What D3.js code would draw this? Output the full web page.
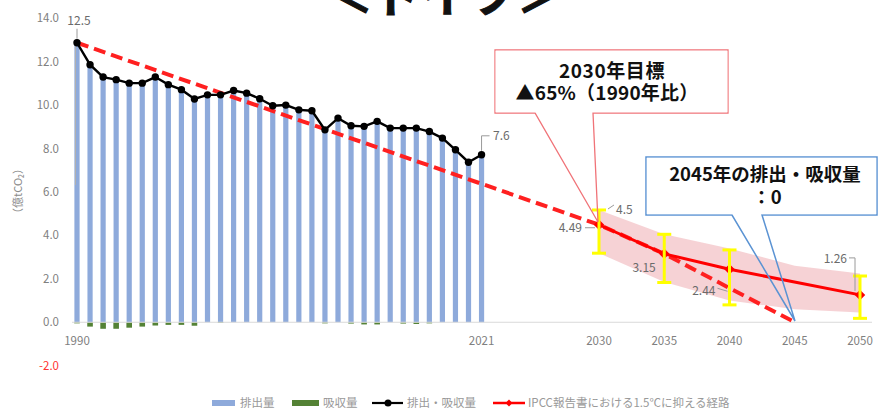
<!DOCTYPE html>
<html>
<head>
<meta charset="utf-8">
<script src="https://cdn.jsdelivr.net/npm/d3@7"></script>
<style>
  body { margin: 0; background: #fff; }
  svg { display: block; }
  text { font-family: "Noto Sans CJK JP", "Noto Sans", sans-serif; }
</style>
</head>
<body>
<svg id="chart"></svg>
<script>
// history 1990-2021
const histYears = d3.range(1990, 2022);
const emissions = [12.87, 11.86, 11.29, 11.17, 11.01, 11.01, 11.29, 10.94, 10.71, 10.28,
                   10.47, 10.47, 10.67, 10.55, 10.29, 9.97, 10.0, 9.78, 9.74, 8.86,
                   9.4, 9.05, 9.02, 9.25, 8.94, 8.94, 8.94, 8.78, 8.48, 7.94, 7.37, 7.71];
const absorption = [-0.05, -0.2, -0.3, -0.3, -0.25, -0.2, -0.15, -0.12, -0.12, -0.16,
                    0, -0.03, 0, 0, 0, 0, 0, 0, 0, -0.05,
                    0, -0.06, -0.1, -0.1, 0, -0.06, -0.08, -0.05, 0, 0, 0, 0];
const netValues = [12.87, 11.86, 11.29, 11.17, 11.01, 11.01, 11.29, 10.94, 10.71, 10.28,
                   10.47, 10.47, 10.67, 10.55, 10.29, 9.97, 10.0, 9.78, 9.74, 8.86,
                   9.4, 9.05, 9.02, 9.25, 8.94, 8.94, 8.94, 8.78, 8.48, 7.94, 7.37, 7.71];

// IPCC 1.5C path
const pathYears = [2030, 2035, 2040, 2050];
const pathValues = [4.49, 3.15, 2.44, 1.26];
const bandYears = [2030, 2035, 2040, 2045, 2050];
const bandLow = [3.18, 1.85, 1.0, 0.6, 0.45];
const bandHigh = [5.17, 4.05, 3.4, 2.6, 2.25];
const errYears = [2030, 2035, 2040, 2050];
const errLow = [3.18, 1.83, 0.8, 0.18];
const errHigh = [5.17, 4.05, 3.33, 2.13];

// straight target line
const targetYears = [1990, 2030, 2035, 2045];
const targetValues = [12.87, 4.49, 3.15, 0];

const yTicks = [-2, 0, 2, 4, 6, 8, 10, 12, 14];
const xTickYears = [1990, 2021, 2030, 2035, 2040, 2045, 2050];

const labelYears = [1990, 2021, 2030, 2030, 2035, 2040, 2050];
const labelValues = [12.87, 7.71, 5.17, 4.49, 3.15, 2.44, 1.26];
const labelTexts = ["12.5", "7.6", "4.5", "4.49", "3.15", "2.44", "1.26"];

const legendNames = ["排出量", "吸収量", "排出・吸収量", "IPCC報告書における1.5℃に抑える経路"];

const W = 879, H = 409;
const svg = d3.select("#chart").attr("width", W).attr("height", H);

const x = d3.scaleLinear().domain([1990, 2050]).range([77, 860]);
const y = d3.scaleLinear().domain([-2, 14]).range([365.7, 18.2]);

// title (cut at top)
svg.append("text")
    .attr("x", 327).attr("y", 12)
    .attr("font-size", 46).attr("font-weight", 700)
    .attr("letter-spacing", 1.5)
    .attr("fill", "#111")
    .attr("stroke", "#111").attr("stroke-width", 1)
    .text("＜ドイツ＞");

// y tick labels
svg.append("g").selectAll("text")
    .data(yTicks).enter().append("text")
    .attr("x", 59).attr("y", d => y(d) + 4)
    .attr("text-anchor", "end")
    .attr("font-size", 11.5)
    .attr("fill", d => d < 0 ? "#ff3333" : "#808080")
    .text(d => d.toFixed(1));

// y title
svg.append("text")
    .attr("transform", "translate(22,191) rotate(-90)")
    .attr("text-anchor", "middle")
    .attr("font-size", 11)
    .attr("fill", "#8c8c8c")
    .text("（億tCO₂）");

// pink band
const band = d3.area()
    .x((d, i) => x(bandYears[i]))
    .y0((d, i) => y(bandLow[i]))
    .y1((d, i) => y(bandHigh[i]));
svg.append("path").datum(bandYears)
    .attr("d", band)
    .attr("fill", "#f4cace").attr("opacity", 0.85);

// emission bars
svg.append("g").selectAll("rect")
    .data(emissions).enter().append("rect")
    .attr("x", (d, i) => x(histYears[i]) - 2.6)
    .attr("width", 5.2)
    .attr("y", d => y(d))
    .attr("height", d => y(0) - y(d))
    .attr("fill", "#8eaadb");

// absorption bars
svg.append("g").selectAll("rect")
    .data(absorption).enter().append("rect")
    .attr("x", (d, i) => x(histYears[i]) - 2.8)
    .attr("width", 5.6)
    .attr("y", y(0))
    .attr("height", d => y(d) - y(0))
    .attr("fill", "#548235");

// zero line
svg.append("line")
    .attr("x1", 72).attr("x2", 872)
    .attr("y1", y(0)).attr("y2", y(0))
    .attr("stroke", "#d9d9d9").attr("stroke-width", 1);

// gray line at 1990
svg.append("line")
    .attr("x1", 75.5).attr("x2", 75.5).attr("y1", 40).attr("y2", 185)
    .attr("stroke", "#b0b0b0").attr("stroke-width", 1);

// x tick labels
svg.append("g").selectAll("text")
    .data(xTickYears).enter().append("text")
    .attr("x", d => x(d)).attr("y", 345)
    .attr("text-anchor", "middle")
    .attr("font-size", 11.5)
    .attr("fill", "#808080")
    .text(d => d);

// dashed target line
const targetLine = d3.line()
    .x((d, i) => x(targetYears[i]))
    .y((d, i) => y(targetValues[i]));
svg.append("path").datum(targetYears)
    .attr("d", targetLine)
    .attr("fill", "none")
    .attr("stroke", "#ff2020").attr("stroke-width", 4)
    .attr("stroke-dasharray", "12,6");

// net emissions line
const netLine = d3.line()
    .x((d, i) => x(histYears[i]))
    .y((d, i) => y(netValues[i]));
svg.append("path").datum(netValues)
    .attr("d", netLine)
    .attr("fill", "none")
    .attr("stroke", "#000").attr("stroke-width", 2.4);
svg.append("g").selectAll("circle")
    .data(netValues).enter().append("circle")
    .attr("cx", (d, i) => x(histYears[i]))
    .attr("cy", d => y(d))
    .attr("r", 3.7)
    .attr("fill", "#000");

// IPCC path line
const pathLine = d3.line()
    .x((d, i) => x(pathYears[i]))
    .y((d, i) => y(pathValues[i]));
svg.append("path").datum(pathValues)
    .attr("d", pathLine)
    .attr("fill", "none")
    .attr("stroke", "#ff0000").attr("stroke-width", 3);
svg.append("g").selectAll("path")
    .data(pathValues).enter().append("path")
    .attr("d", d3.symbol().type(d3.symbolDiamond2).size(70))
    .attr("transform", (d, i) => `translate(${x(pathYears[i])},${y(d)})`)
    .attr("fill", "#ff0000");

// yellow error bars
const err = svg.append("g").attr("stroke", "#ffff00").attr("stroke-width", 3);
errYears.forEach((yr, i) => {
    const cx = x(yr);
    err.append("line").attr("x1", cx).attr("x2", cx)
        .attr("y1", y(errLow[i])).attr("y2", y(errHigh[i]));
    err.append("line").attr("x1", cx - 7).attr("x2", cx + 7)
        .attr("y1", y(errLow[i])).attr("y2", y(errLow[i]));
    err.append("line").attr("x1", cx - 7).attr("x2", cx + 7)
        .attr("y1", y(errHigh[i])).attr("y2", y(errHigh[i]));
});

// data labels
const labelDx = [2, 11.5, 17, -17, -8.5, -14, -13];
const labelDy = [-18, -15, 4, 7, 18, 26, -32];
const labelAnchor = ["middle", "start", "start", "end", "end", "end", "end"];
svg.append("g").selectAll("text")
    .data(labelTexts).enter().append("text")
    .attr("x", (d, i) => x(labelYears[i]) + labelDx[i])
    .attr("y", (d, i) => y(labelValues[i]) + labelDy[i])
    .attr("text-anchor", (d, i) => labelAnchor[i])
    .attr("font-size", 12)
    .attr("fill", "#6b6b6b")
    .text(d => d);

// leader lines
const leaders = svg.append("g").attr("fill", "none").attr("stroke", "#9a9a9a").attr("stroke-width", 1);
const lp = (yr, v) => [x(yr), y(v)];
{
    const [ax, ay] = lp(1990, 12.87);
    leaders.append("path").attr("d", `M${ax},${ay - 14} V${ay - 4}`);
    const [bx, by] = lp(2021, 7.71);
    leaders.append("path").attr("d", `M${bx},${by - 4} V${by - 19} H${bx + 8}`);
    const [cx, cy] = lp(2030, 5.17);
    leaders.append("path").attr("d", `M${cx + 9},${cy - 1} L${cx + 15},${cy - 5}`);
    const [dx, dy] = lp(2030, 4.49);
    leaders.append("path").attr("d", `M${dx - 14},${dy + 3} H${dx - 4}`);
    const [ex, ey] = lp(2040, 2.44);
    leaders.append("path").attr("d", `M${ex - 12},${ey + 19} L${ex - 2},${ey + 22}`);
    const [fx, fy] = lp(2050, 1.26);
    leaders.append("path").attr("d", `M${fx - 11},${fy - 37} H${fx - 5} V${fy - 4}`);
}

// callout: 2030 target (red)
svg.append("path")
    .attr("d", "M495,50 H728 V113 H593 L598,222 L535,113 H495 Z")
    .attr("fill", "none")
    .attr("stroke", "#f07378").attr("stroke-width", 1.3);
svg.append("rect").attr("x", 495.6).attr("y", 50.6).attr("width", 231.8).attr("height", 61.8).attr("fill", "#fff");
svg.append("text").attr("x", 612).attr("y", 78)
    .attr("text-anchor", "middle").attr("font-size", 19).attr("font-weight", 700)
    .attr("letter-spacing", 0.6).attr("fill", "#111")
    .text("2030年目標");
svg.append("text").attr("x", 607).attr("y", 100)
    .attr("text-anchor", "middle").attr("font-size", 19).attr("font-weight", 700)
    .attr("letter-spacing", 0.2).attr("fill", "#111")
    .text("▲65%（1990年比）");

// callout: 2045 (blue)
svg.append("path")
    .attr("d", "M646,157 H877 V215 H762 L795,321 L732,215 H646 Z")
    .attr("fill", "none")
    .attr("stroke", "#5b93d3").attr("stroke-width", 1.5);
svg.append("rect").attr("x", 646.8).attr("y", 157.8).attr("width", 229.4).attr("height", 56.4).attr("fill", "#fff");
svg.append("text").attr("x", 765).attr("y", 181)
    .attr("text-anchor", "middle").attr("font-size", 18.5).attr("font-weight", 700).attr("fill", "#111")
    .text("2045年の排出・吸収量");
svg.append("text").attr("x", 767).attr("y", 204)
    .attr("text-anchor", "middle").attr("font-size", 18.5).attr("font-weight", 700).attr("fill", "#111")
    .text("：0");

// legend
const lg = svg.append("g").attr("font-size", 11.5).attr("fill", "#999");
lg.append("rect").attr("x", 212).attr("y", 400).attr("width", 23).attr("height", 6).attr("fill", "#8eaadb");
lg.append("text").attr("x", 240).attr("y", 407).text(legendNames[0]);
lg.append("rect").attr("x", 292).attr("y", 400).attr("width", 27).attr("height", 6).attr("fill", "#548235");
lg.append("text").attr("x", 323).attr("y", 407).text(legendNames[1]);
lg.append("line").attr("x1", 372).attr("x2", 403).attr("y1", 403).attr("y2", 403).attr("stroke", "#000").attr("stroke-width", 2.2);
lg.append("circle").attr("cx", 388).attr("cy", 403).attr("r", 3.5).attr("fill", "#000");
lg.append("text").attr("x", 407).attr("y", 407).text(legendNames[2]);
lg.append("line").attr("x1", 493).attr("x2", 525).attr("y1", 403).attr("y2", 403).attr("stroke", "#ff0000").attr("stroke-width", 2.5);
lg.append("path").attr("d", d3.symbol().type(d3.symbolDiamond2).size(30)).attr("transform", "translate(509,403)").attr("fill", "#ff0000");
lg.append("text").attr("x", 528).attr("y", 407).text(legendNames[3]);
</script>
</body>
</html>
